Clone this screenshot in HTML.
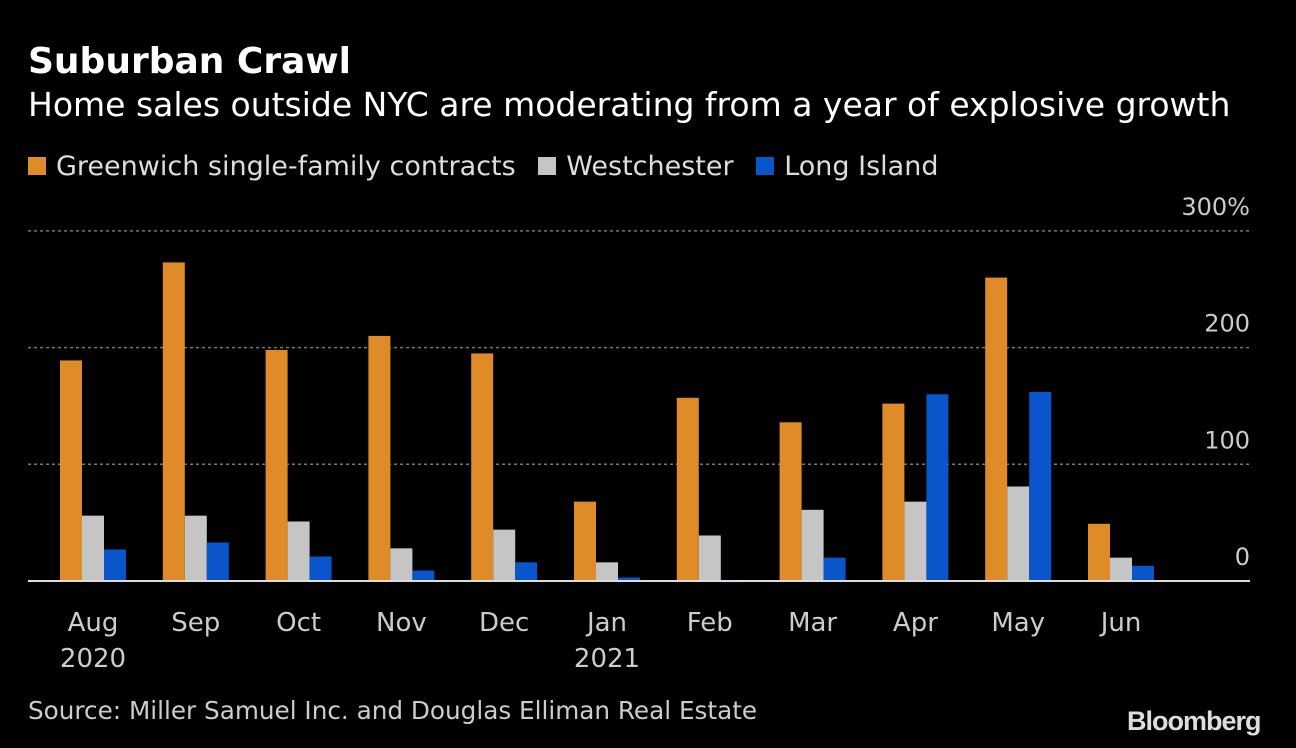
<!DOCTYPE html>
<html><head><meta charset="utf-8">
<style>
body{margin:0;background:#000;width:1296px;height:748px;overflow:hidden;font-family:"Liberation Sans","DejaVu Sans",sans-serif;color:#fff}
.t{position:absolute;white-space:nowrap}
</style></head>
<body>
<div class="t" style="left:28px;top:41px;font-size:36px;font-weight:bold;font-family:'DejaVu Sans',sans-serif;">Suburban Crawl</div>
<div class="t" style="left:28px;top:85px;font-size:33px;font-family:'DejaVu Sans',sans-serif;">Home sales outside NYC are moderating from a year of explosive growth</div>
<div class="t" style="left:28px;top:151px;font-size:27px;font-family:'DejaVu Sans',sans-serif;color:#ddd">
<span><span style="display:inline-block;width:18px;height:18px;background:#df8b27;margin-right:10px"></span>Greenwich single-family contracts</span>
<span style="margin-left:14px"><span style="display:inline-block;width:18px;height:18px;background:#c5c5c5;margin-right:10px"></span>Westchester</span>
<span style="margin-left:14px"><span style="display:inline-block;width:18px;height:18px;background:#0a55c9;margin-right:10px"></span>Long Island</span>
</div>
<svg id="chart" width="1296" height="748" style="position:absolute;left:0;top:0"></svg>
<div class="t" style="left:28px;top:696px;font-size:24.7px;font-family:'DejaVu Sans',sans-serif;color:#ccc">Source: Miller Samuel Inc. and Douglas Elliman Real Estate</div>
<div class="t" style="left:1127px;top:706px;font-size:27px;font-weight:bold;color:#ddd;letter-spacing:-1px">Bloomberg</div>
<script>
const categories=["Aug","Sep","Oct","Nov","Dec","Jan","Feb","Mar","Apr","May","Jun"];
const yearLabels=["2020","","","","","2021","","","","",""];
const greenwich=[189,273,198,210,195,68,157,136,152,260,49];
const westchester=[56,56,51,28,44,16,39,61,68,81,20];
const longIsland=[27,33,21,9,16,3,-1,20,160,162,13];
const ticks=[0,100,200,300];
const tickLabels=["0","100","200","300%"];
const svg=document.getElementById('chart');
const NS='http://www.w3.org/2000/svg';
const y0=581,pxPer=1.167;
const y=v=>y0-v*pxPer;
const x=i=>60+i*102.8;
function mk(tag,attrs){const e=document.createElementNS(NS,tag);for(const k in attrs)e.setAttribute(k,attrs[k]);svg.appendChild(e);return e;}
ticks.forEach((t,i)=>{
 if(t!==0){const g=mk('line',{x1:28,x2:1250,y1:y(t),y2:y(t),stroke:'#777','stroke-width':1.5,'stroke-dasharray':'3,3'});
 
 }
 const tx=mk('text',{x:1250,y:y(t)-16,'text-anchor':'end',fill:'#ccc','font-size':24,'font-family':'DejaVu Sans,sans-serif'});
 tx.textContent=tickLabels[i];
 
 
});
const series=[[greenwich,'#df8b27','greenwich'],[westchester,'#c5c5c5','westchester'],[longIsland,'#0a55c9','long-island']];
categories.forEach((c,i)=>{
 series.forEach((s,j)=>{
  const v=s[0][i];
  const r=mk('rect',{x:x(i)+j*22,y:Math.min(y(v),y0),width:22,height:Math.max(Math.abs(v*pxPer),0.5),fill:s[1]});
  
  
 });
 const t=mk('text',{x:x(i)+33,y:631,'text-anchor':'middle',fill:'#ccc','font-size':26,'font-family':'DejaVu Sans,sans-serif'});
 t.textContent=c;
 
 
 if(yearLabels[i]){const t2=mk('text',{x:x(i)+33,y:667,'text-anchor':'middle',fill:'#ccc','font-size':26,'font-family':'DejaVu Sans,sans-serif'});
 t2.textContent=yearLabels[i];
 
 }
});
const base=mk('line',{x1:28,x2:1250,y1:y0,y2:y0,stroke:'#ddd','stroke-width':2});


</script>
</body></html>
